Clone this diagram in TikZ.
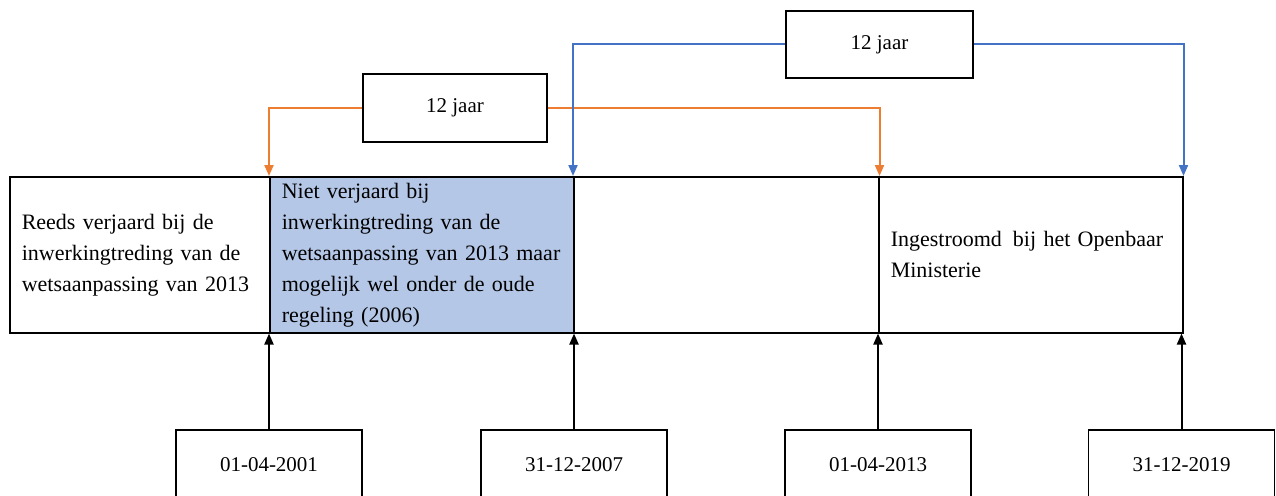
\documentclass[tikz,border=0pt]{standalone}
\usepackage{fontspec}
\setmainfont{Liberation Serif}
\usetikzlibrary{arrows.meta}
\definecolor{orng}{HTML}{ED7D31}
\definecolor{blu}{HTML}{4472C4}
\definecolor{fillblue}{HTML}{B4C7E7}
\begin{document}
\begin{tikzpicture}[x=1pt,y=-1pt,
  cell/.style={draw=black,line width=1.5pt,rectangle,minimum height=156pt,
    inner xsep=12pt,inner ysep=0pt,align=left,anchor=north west,
    font=\fontsize{22}{31}\selectfont},
  datebox/.style={draw=black,line width=1.5pt,rectangle,minimum width=186pt,
    minimum height=70pt,inner sep=0pt,font=\fontsize{21}{25}\selectfont},
  yearbox/.style={draw=black,line width=1.5pt,rectangle,inner sep=0pt,
    font=\fontsize{21}{25}\selectfont},
  tip/.style={-{Triangle[width=9pt,length=11pt]}},
  conn/.style={line width=2pt,tip},
]
\useasboundingbox (0,0) rectangle (1276,495);

% main row
\node[cell,text width=236pt] (b1) at (9,176)
  {Reeds verjaard bij de\\inwerkingtreding van de\\wetsaanpassing van 2013};
\node[cell,text width=281pt] (b3) at (573,176) {};
\node[cell,text width=280pt] (b4) at (878,176)
  {Ingestroomd\hspace{0.5em}bij het Openbaar\\Ministerie};
\node[cell,text width=280pt,fill=fillblue] (b2) at (269,176)
  {Niet verjaard bij\\inwerkingtreding van de\\wetsaanpassing van 2013 maar\\mogelijk wel onder de oude\\regeling (2006)};

% year boxes
\node[yearbox,minimum width=184pt,minimum height=68pt] (yo) at (455,108) {12 jaar};
\node[yearbox,minimum width=187pt,minimum height=67pt] (yb) at (879.5,44.5) {12 jaar};

\draw[conn,draw=orng] (yo.west) -| (b2.north west);
\draw[conn,draw=orng] (yo.east) -| (b3.north east);
\draw[conn,draw=blu] (yb.west) -| (b3.north west);
\draw[conn,draw=blu] (yb.east) -| (b4.north east);

% date boxes
\node[datebox] (d1) at (269,465) {01-04-2001};
\node[datebox] (d2) at (574,465) {31-12-2007};
\node[datebox] (d3) at (878,465) {01-04-2013};
\node[datebox] (d4) at (1181.5,465) {31-12-2019};

\draw[conn] (d1.north) -- (d1.north |- b1.south);
\draw[conn] (d2.north) -- (d2.north |- b2.south);
\draw[conn] (d3.north) -- (d3.north |- b3.south);
\draw[conn] (d4.north) -- (d4.north |- b4.south);
\end{tikzpicture}
\end{document}
